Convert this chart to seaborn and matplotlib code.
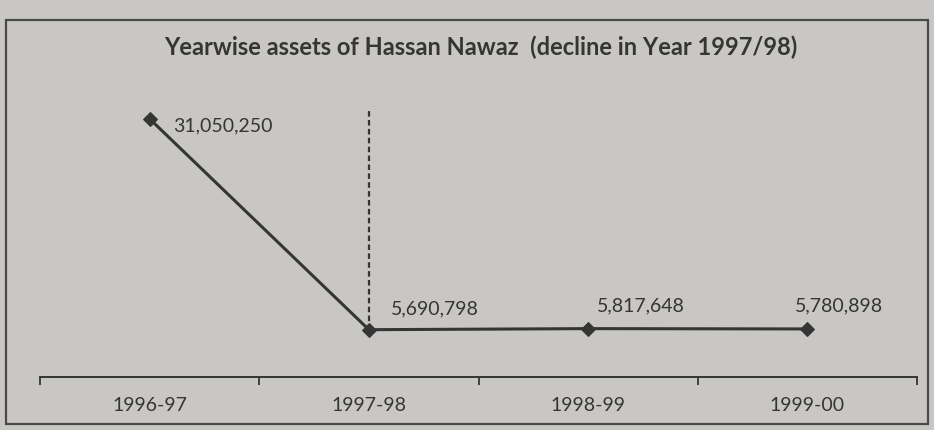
import matplotlib
matplotlib.use("Agg")
import matplotlib.pyplot as plt
from matplotlib.patches import Rectangle
import seaborn as sns
import pandas as pd

# === DATA ===
years = ["1996-97", "1997-98", "1998-99", "1999-00"]
assets = [31050250, 5690798, 5817648, 5780898]
decline_year = "1997-98"

BG = "#c9c7c3"
INK = "#353535"

sns.set_theme(style="white")
plt.rcParams["font.family"] = ["Lato", "DejaVu Sans"]

df = pd.DataFrame({"pos": range(len(years)), "year": years, "assets": assets})

fig = plt.figure(figsize=(9.34, 4.31), dpi=100, facecolor=BG)
ax = fig.add_axes([40 / 934, 53 / 431, 877 / 934, (378 - 87) / 431])
ax.set_facecolor(BG)

sns.lineplot(data=df, x="pos", y="assets", ax=ax, color=INK, linewidth=2.2,
             marker="D", markersize=7, markeredgecolor=INK)

# dashed marker for the decline year
i = years.index(decline_year)
ax.vlines(i, assets[i], 32.3e6, colors=INK, linestyles=(0, (2.5, 1.5)), linewidth=1.6)

# value labels
offsets = [(17, -4), (16, 16), (6, 17), (-9, 17)]
for k, (v, off) in enumerate(zip(assets, offsets)):
    ax.annotate(f"{v:,}", (k, v), xytext=off, textcoords="offset points",
                ha="left", va="center", fontsize=14, color=INK)

ax.set_xlim(-0.5, len(years) - 0.5)
ax.set_ylim(0, 35e6)
ax.set_xticks([k - 0.5 for k in range(len(years) + 1)])
ax.set_xticklabels([])
ax.set_xticks(range(len(years)), minor=True)
ax.set_xticklabels(years, minor=True, fontsize=14, color=INK)
ax.tick_params(axis="x", which="major", bottom=True, direction="out", length=6,
               width=1.3, color=INK)
ax.tick_params(axis="x", which="minor", bottom=True, length=0, pad=14)
ax.set_yticks([])
ax.set_xlabel("")
ax.set_ylabel("")
for s in ["top", "left", "right"]:
    ax.spines[s].set_visible(False)
ax.spines["bottom"].set_color(INK)
ax.spines["bottom"].set_linewidth(1.4)

fig.text(481 / 934, 1 - 47 / 431, "Yearwise assets of Hassan Nawaz  (decline in Year 1997/98)",
         ha="center", va="center", fontsize=17, fontweight="bold", color=INK)

fig.patches.append(Rectangle((6 / 934, 6 / 431), 922 / 934, 404 / 431,
                             transform=fig.transFigure, fill=False,
                             edgecolor="#4a4a4a", linewidth=1.6))

fig.savefig("out.png", dpi=100, facecolor=BG)
